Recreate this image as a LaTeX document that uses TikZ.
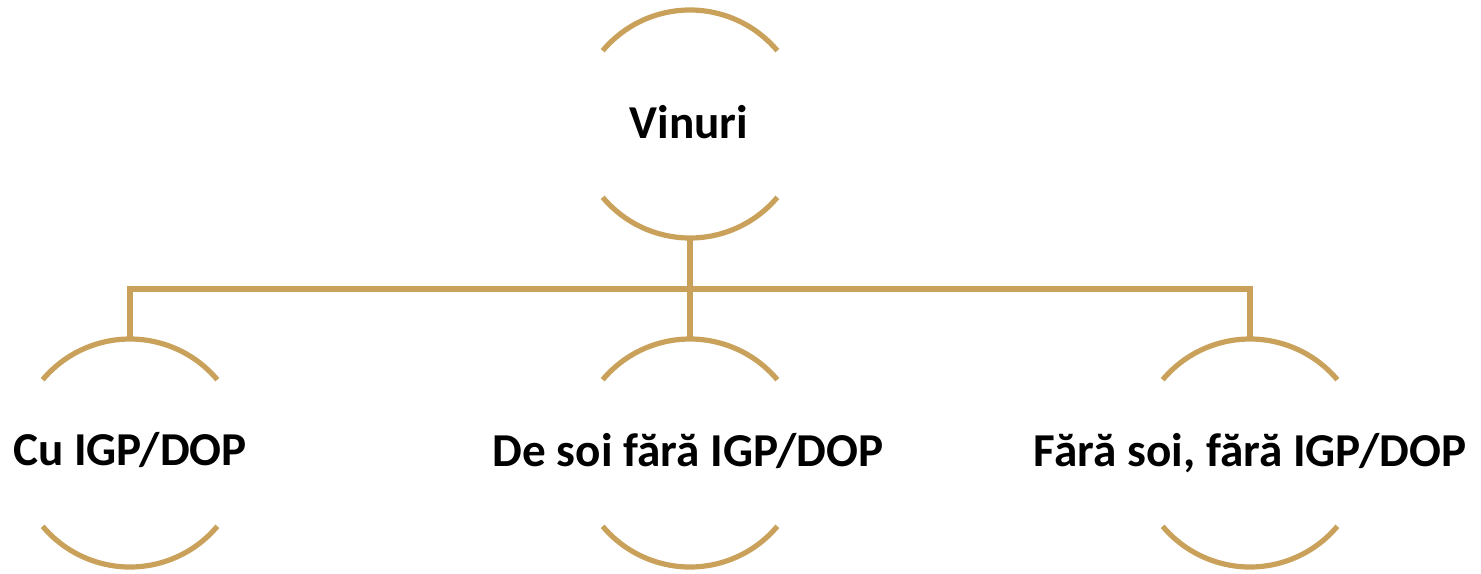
\documentclass[tikz,border=0pt]{standalone}
\usepackage{fontspec}
\setmainfont{Carlito}
\definecolor{gold}{RGB}{201,161,90}
\begin{document}
\begin{tikzpicture}[x=0.5pt,y=-0.5pt,
  ring/.style={draw=gold,line width=2.6pt},
  conn/.style={draw=gold,line width=2.6pt},
  lbl/.style={anchor=base,inner sep=0pt,font=\fontsize{23.6}{28}\selectfont\bfseries}]
\useasboundingbox (0,0) rectangle (1481,573);
% circle centres
\coordinate (c0) at (690,124);
\coordinate (c1) at (130,453);
\coordinate (c2) at (690,453);
\coordinate (c3) at (1250,453);
% labels
\node[lbl] (n0) at (689,138) {Vinuri};
\node[lbl] (n1) at (130,465) {Cu IGP/DOP};
\node[lbl] (n2) at (688,466) {De soi fără IGP/DOP};
\node[lbl] (n3) at (1250,466) {Fără soi, fără IGP/DOP};
% arcs
\foreach \c in {c0,c1,c2,c3}{
  \draw[ring] ([shift={(40:114)}]\c) arc[start angle=40,end angle=140,radius=114];
  \draw[ring] ([shift={(220:114)}]\c) arc[start angle=220,end angle=320,radius=114];
}
% arc end points for connectors
\coordinate (b0) at ([shift={(0,114)}]c0);
\coordinate (t1) at ([shift={(0,-114)}]c1);
\coordinate (t2) at ([shift={(0,-114)}]c2);
\coordinate (t3) at ([shift={(0,-114)}]c3);
\coordinate (bus) at (690,289);
\draw[conn] (b0) -- (t2);
\draw[conn] (t1) |- (bus) -| (t3);
\end{tikzpicture}
\end{document}
